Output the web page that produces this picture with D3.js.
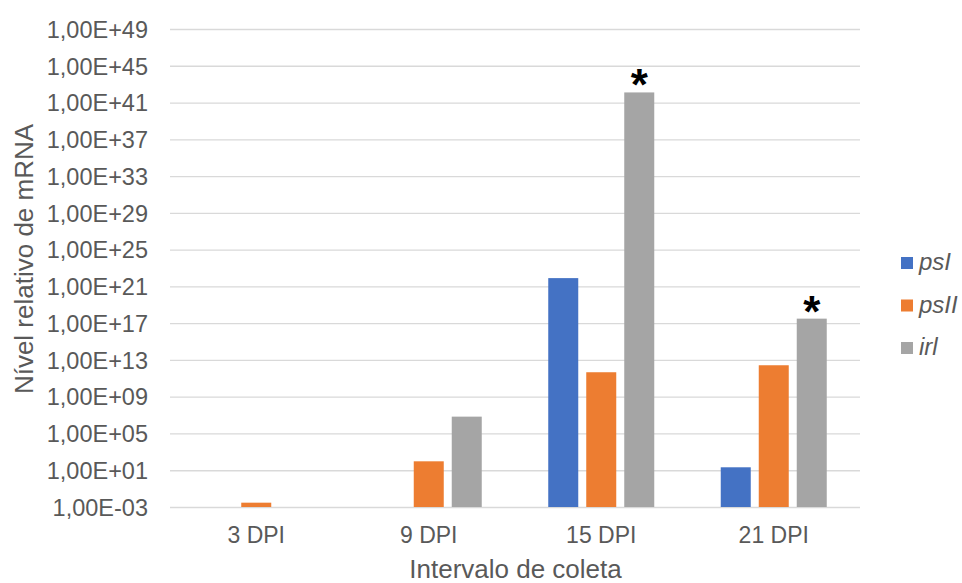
<!DOCTYPE html>
<html>
<head>
<meta charset="utf-8">
<script src="https://cdn.jsdelivr.net/npm/d3@7"></script>
<style>
  body { margin: 0; background: #fff; }
  svg { display: block; font-family: "Liberation Sans", Arial, sans-serif; }
</style>
</head>
<body>
<svg id="chart" width="962" height="583"></svg>
<script>
const categories = ["3 DPI", "9 DPI", "15 DPI", "21 DPI"];
const seriesNames = ["psI", "psII", "irl"];
// values as log10 exponents (null = no bar)
const psI  = [null, null, 21.9, 1.32];
const psII = [-2.53, 1.97, 11.66, 12.42];
const irl  = [null, 6.83, 42.1, 17.49];
const significant = [[2, "irl"], [3, "irl"]];
const tickExponents = [-3, 1, 5, 9, 13, 17, 21, 25, 29, 33, 37, 41, 45, 49];
const colors = ["#4472C4", "#ED7D31", "#A5A5A5"];

(function () {
const seriesData = { psI, psII, irl };

const svg = d3.select("#chart");
const pl = 170, pr = 860, pt = 29, pb = 507;

const y = d3.scaleLog().domain([1e-3, 1e49]).range([pb, pt]);
const x = d3.scaleBand().domain(categories).range([pl, pr]).padding(0);
const xs = d3.scaleBand().domain(seriesNames).range([0, 106]).paddingInner(0.2105).paddingOuter(0);

function fmt(e) {
  const s = e < 0 ? "-" : "+";
  const a = Math.abs(e);
  return "1,00E" + s + (a < 10 ? "0" + a : a);
}

const yAxis = d3.axisLeft(y)
  .tickValues(tickExponents.map(e => Math.pow(10, e)))
  .tickFormat(d => fmt(Math.round(Math.log10(d))))
  .tickSize(-(pr - pl))
  .tickPadding(22);

const gy = svg.append("g").attr("transform", `translate(${pl},0)`).call(yAxis);
gy.select(".domain").remove();
gy.selectAll(".tick line").attr("stroke", "#D9D9D9").attr("stroke-width", 1.3);
gy.selectAll(".tick text").attr("fill", "#595959").attr("font-size", 23.5).attr("dy", "0.35em");

const groups = svg.append("g");
seriesNames.forEach((s, si) => {
  const vals = seriesData[s];
  groups.selectAll(null)
    .data(categories.map((c, i) => ({ c, v: vals[i] })).filter(d => d.v !== null))
    .enter().append("rect")
    .attr("x", d => x(d.c) + x.bandwidth() / 2 - 53 + xs(s))
    .attr("width", xs.bandwidth())
    .attr("y", d => y(Math.pow(10, d.v)))
    .attr("height", d => pb - y(Math.pow(10, d.v)))
    .attr("fill", colors[si]);
});

significant.forEach(([ci, s]) => {
  const v = seriesData[s][ci];
  svg.append("text")
    .attr("x", x(categories[ci]) + x.bandwidth() / 2 - 53 + xs(s) + xs.bandwidth() / 2)
    .attr("y", y(Math.pow(10, v)) + 8)
    .attr("text-anchor", "middle")
    .attr("font-size", 44)
    .attr("font-weight", "bold")
    .attr("fill", "#000")
    .text("*");
});

const xAxis = d3.axisBottom(x).tickSize(0).tickPadding(0);
const gx = svg.append("g").attr("transform", `translate(0,${pb})`).call(xAxis);
gx.select(".domain").remove();
gx.selectAll(".tick text").attr("fill", "#595959").attr("font-size", 23)
  .attr("dy", null).attr("y", 36);

svg.append("text")
  .attr("x", 515.5)
  .attr("y", 578)
  .attr("text-anchor", "middle")
  .attr("fill", "#595959")
  .attr("font-size", 26)
  .text("Intervalo de coleta");

svg.append("text")
  .attr("transform", `translate(33,259) rotate(-90)`)
  .attr("text-anchor", "middle")
  .attr("fill", "#595959")
  .attr("font-size", 26)
  .text("Nível relativo de mRNA");

const lg = svg.append("g");
seriesNames.forEach((s, i) => {
  const yy = 257 + i * 42.5;
  lg.append("rect").attr("x", 901).attr("y", yy).attr("width", 12).attr("height", 12).attr("fill", colors[i]);
  lg.append("text").attr("x", 919).attr("y", yy + 13)
    .attr("font-size", 24).attr("font-style", "italic").attr("fill", "#595959").text(s);
});
})();
</script>
</body>
</html>
